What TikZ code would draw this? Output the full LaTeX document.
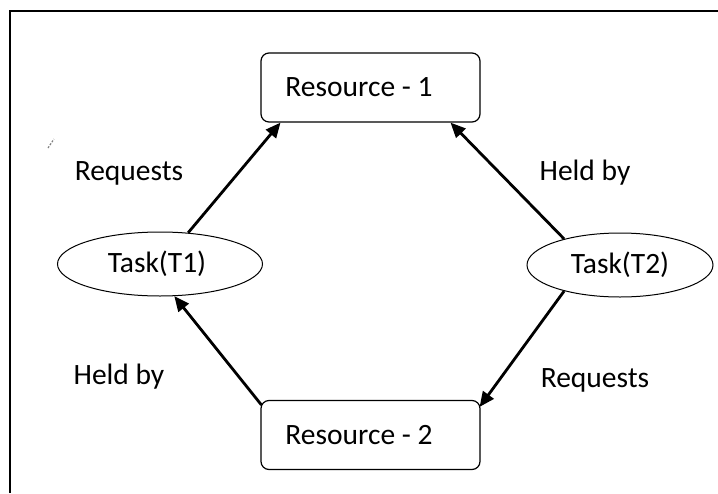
\documentclass[tikz,border=0pt]{standalone}
\usepackage{fontspec}
\setmainfont{Carlito}
\usetikzlibrary{arrows.meta,shapes.geometric}

\begin{document}
\begin{tikzpicture}[x=1pt,y=-1pt,
  font=\fontsize{29.5}{34}\selectfont,
  box/.style={draw, rounded corners=8pt, line width=1.2pt,
    minimum width=219pt, minimum height=69pt, inner sep=0pt},
  task/.style={draw, ellipse, line width=1pt,
    minimum height=64pt, inner sep=0pt},
  lbl/.style={inner sep=0pt},
  flow/.style={line width=2.8pt, -{Triangle[length=15pt,width=13pt]}}]
\useasboundingbox (0,0) rectangle (718,493);

% frame (open to the right and bottom)
\draw[line width=2pt] (10,493) -- (10,11) -- (718,11);

% small stray pen mark
\draw[gray, line width=1.2pt, dash pattern=on 2pt off 1.5pt] (48,148) -- (54,139);

% resources (labels sit a little left of centre)
\node[box] (r1) at (370.5,87.5) {Resource - 1\hspace*{23pt}};
\node[box] (r2) at (370.5,435) {Resource - 2\hspace*{23pt}};

% tasks
\node[task, minimum width=205pt] (t1) at (160,264) {Task(T1)\hspace*{6pt}};
\node[task, minimum width=186pt] (t2) at (620,265) {Task(T2)};

% edge labels
\node[lbl] (l1) at (129,173) {Requests};
\node[lbl] (l2) at (585,173) {Held by};
\node[lbl] (l3) at (119,377) {Held by};
\node[lbl] (l4) at (595,380) {Requests};

% wait-for cycle
\draw[flow] (t1.48) -- ([xshift=-90pt]r1.south);
\draw[flow] (t2.155) -- ([xshift=80pt]r1.south);
\draw[flow] ([shift={(1pt,-5pt)}]r2.north west) -- (t1.-66);
\draw[flow] (t2.205) -- ([shift={(-1pt,-7pt)}]r2.north east);
\end{tikzpicture}
\end{document}
